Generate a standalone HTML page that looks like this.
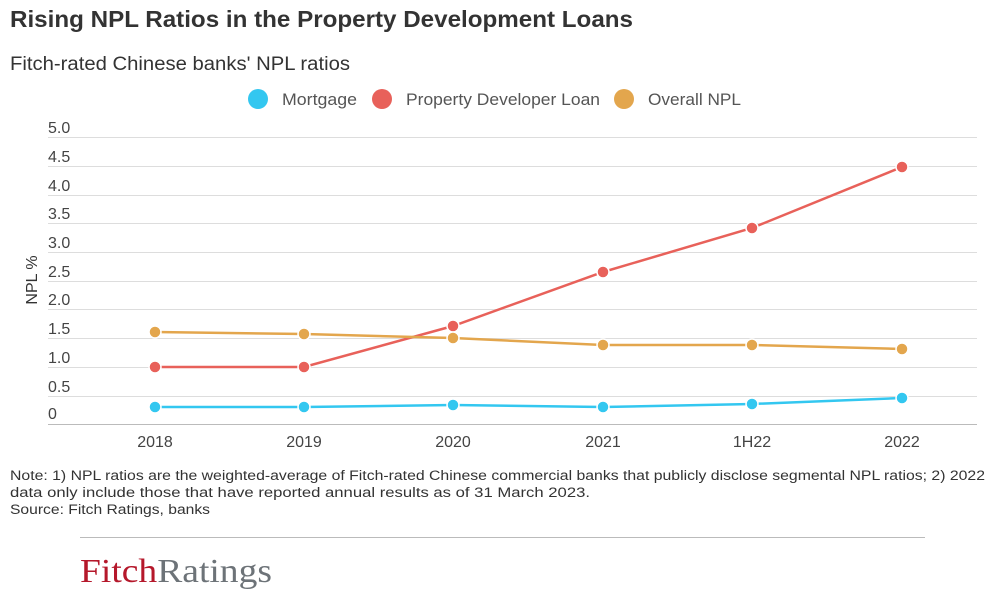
<!DOCTYPE html>
<html><head><meta charset="utf-8"><style>
body{margin:0;background:#fff;width:989px;height:597px;overflow:hidden;font-family:"Liberation Sans",sans-serif}
</style></head><body>
<svg width="989" height="597" xmlns="http://www.w3.org/2000/svg" font-family="Liberation Sans, sans-serif">
<text x="10" y="27" font-size="23" font-weight="bold" fill="#333" textLength="623" lengthAdjust="spacingAndGlyphs">Rising NPL Ratios in the Property Development Loans</text>
<text x="10" y="70" font-size="19" fill="#333" textLength="340" lengthAdjust="spacingAndGlyphs">Fitch-rated Chinese banks' NPL ratios</text>
<circle cx="258" cy="99" r="10" fill="#33c7f0"/><text x="282" y="105" font-size="17" fill="#555" textLength="75" lengthAdjust="spacingAndGlyphs">Mortgage</text>
<circle cx="382" cy="99" r="10" fill="#e8615a"/><text x="406" y="105" font-size="17" fill="#555" textLength="194" lengthAdjust="spacingAndGlyphs">Property Developer Loan</text>
<circle cx="624" cy="99" r="10" fill="#e3a64d"/><text x="648" y="105" font-size="17" fill="#555" textLength="93" lengthAdjust="spacingAndGlyphs">Overall NPL</text>
<g stroke="#ddd" stroke-width="1">
<line x1="48" x2="977" y1="137.5" y2="137.5"/><line x1="48" x2="977" y1="166.5" y2="166.5"/><line x1="48" x2="977" y1="195.5" y2="195.5"/><line x1="48" x2="977" y1="223.5" y2="223.5"/><line x1="48" x2="977" y1="252.5" y2="252.5"/><line x1="48" x2="977" y1="281.5" y2="281.5"/><line x1="48" x2="977" y1="309.5" y2="309.5"/><line x1="48" x2="977" y1="338.5" y2="338.5"/><line x1="48" x2="977" y1="367.5" y2="367.5"/><line x1="48" x2="977" y1="396.5" y2="396.5"/>
</g>
<line x1="48" x2="977" y1="424.5" y2="424.5" stroke="#bbb"/>
<g font-size="16" fill="#444">
<text x="48" y="133">5.0</text><text x="48" y="162">4.5</text><text x="48" y="191">4.0</text><text x="48" y="219">3.5</text><text x="48" y="248">3.0</text><text x="48" y="277">2.5</text><text x="48" y="305">2.0</text><text x="48" y="334">1.5</text><text x="48" y="363">1.0</text><text x="48" y="392">0.5</text><text x="48" y="419">0</text>
</g>
<text transform="translate(37,280) rotate(-90)" font-size="16" fill="#333" text-anchor="middle">NPL %</text>
<g font-size="16" fill="#444" text-anchor="middle">
<text x="155" y="447">2018</text><text x="304" y="447">2019</text><text x="453" y="447">2020</text><text x="603" y="447">2021</text><text x="752" y="447">1H22</text><text x="902" y="447">2022</text>
</g>
<polyline fill="none" stroke="#e8615a" stroke-width="2.5" points="155,367 304,367 453,326 603,272 752,228 902,167"/>
<polyline fill="none" stroke="#e3a64d" stroke-width="2.5" points="155,332 304,334 453,338 603,345 752,345 902,349"/>
<polyline fill="none" stroke="#33c7f0" stroke-width="2.5" points="155,407 304,407 453,405 603,407 752,404 902,398"/>
<g stroke="#fff" stroke-width="1.5">
<g fill="#e8615a"><circle cx="155" cy="367" r="6"/><circle cx="304" cy="367" r="6"/><circle cx="453" cy="326" r="6"/><circle cx="603" cy="272" r="6"/><circle cx="752" cy="228" r="6"/><circle cx="902" cy="167" r="6"/></g>
<g fill="#e3a64d"><circle cx="155" cy="332" r="6"/><circle cx="304" cy="334" r="6"/><circle cx="453" cy="338" r="6"/><circle cx="603" cy="345" r="6"/><circle cx="752" cy="345" r="6"/><circle cx="902" cy="349" r="6"/></g>
<g fill="#33c7f0"><circle cx="155" cy="407" r="6"/><circle cx="304" cy="407" r="6"/><circle cx="453" cy="405" r="6"/><circle cx="603" cy="407" r="6"/><circle cx="752" cy="404" r="6"/><circle cx="902" cy="398" r="6"/></g>
</g>
<g font-size="13.5" fill="#333">
<text x="10" y="480" textLength="975" lengthAdjust="spacingAndGlyphs">Note: 1) NPL ratios are the weighted-average of Fitch-rated Chinese commercial banks that publicly disclose segmental NPL ratios; 2) 2022</text>
<text x="10" y="497" textLength="580" lengthAdjust="spacingAndGlyphs">data only include those that have reported annual results as of 31 March 2023.</text>
<text x="10" y="514" textLength="200" lengthAdjust="spacingAndGlyphs">Source: Fitch Ratings, banks</text>
</g>
<line x1="80" x2="925" y1="537.5" y2="537.5" stroke="#bbb"/>
<text x="80" y="582" font-family="Liberation Serif, serif" font-size="34" textLength="192" lengthAdjust="spacingAndGlyphs"><tspan fill="#b5182b">Fitch</tspan><tspan fill="#6d7378">Ratings</tspan></text>
</svg>
</body></html>
